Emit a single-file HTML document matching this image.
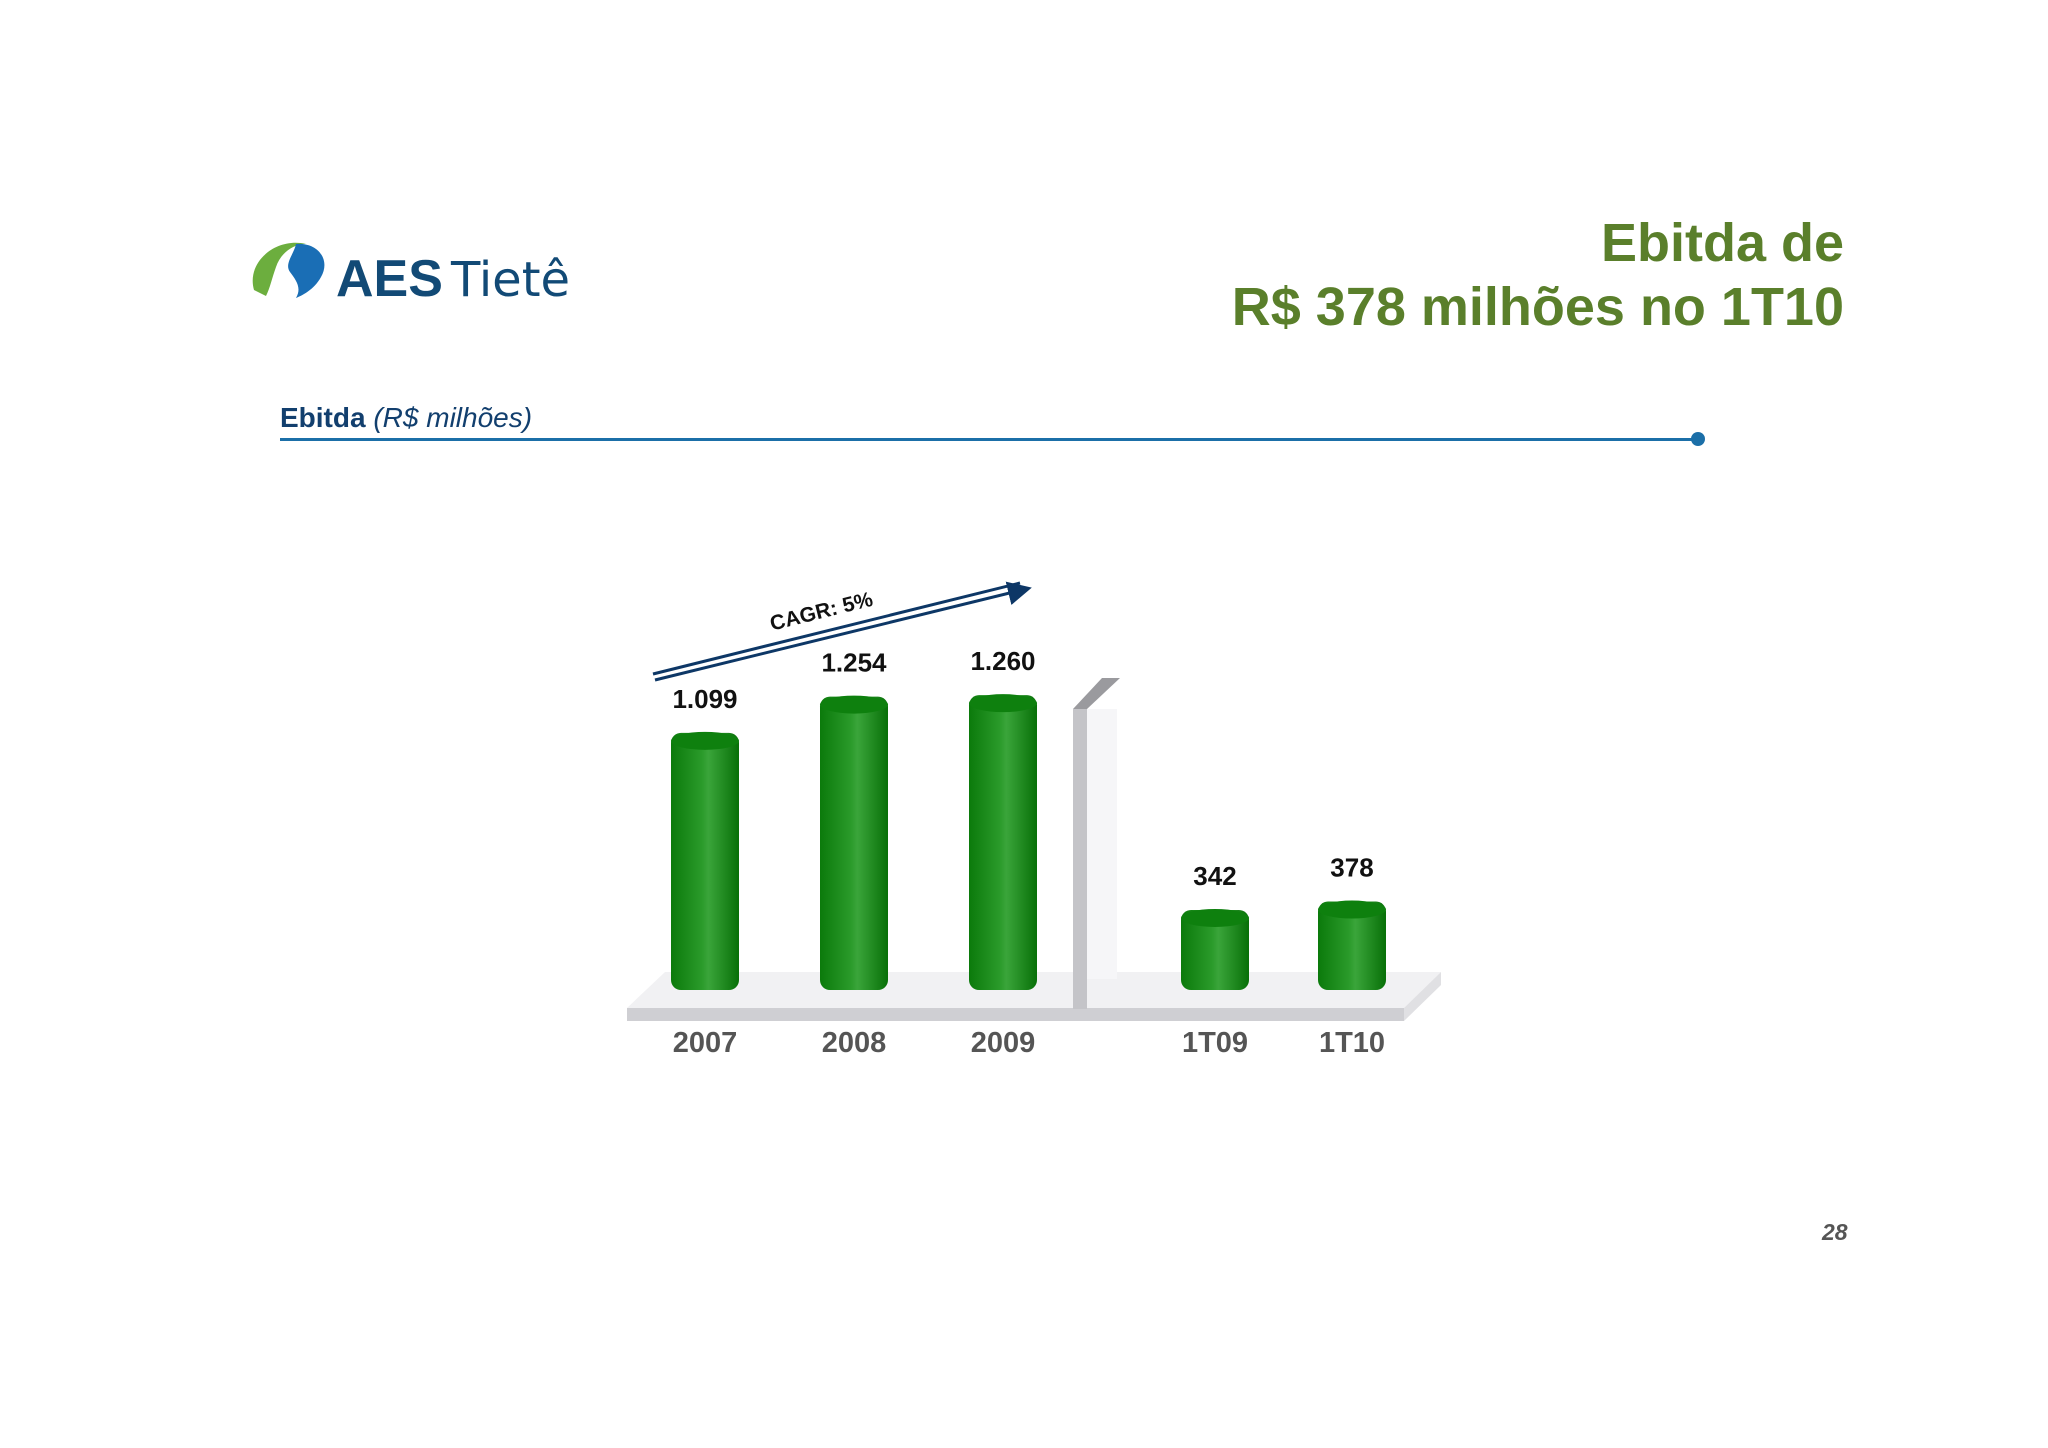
<!DOCTYPE html>
<html><head><meta charset="utf-8"><style>
body{margin:0;width:2048px;height:1448px;background:#fff;position:relative;overflow:hidden;font-family:"Liberation Sans",sans-serif}
.abs{position:absolute}
</style></head><body>
<div class="abs" style="left:246px;top:232px;width:340px;height:75px">
<svg width="340" height="75" viewBox="0 0 340 75">
<path d="M8 58 C0 30 30 5 60 12 C48 12 35 20 30 35 C26 46 24 56 20 64 Z" fill="#6cae3e"/>
<path d="M50 12 C72 10 85 28 75 45 C68 58 55 64 50 66 C56 56 50 48 44 40 C38 32 48 22 50 12 Z" fill="#1a6eb5"/>
<text x="90" y="64" font-family="Liberation Sans, sans-serif" font-weight="bold" font-size="52" fill="#124a76">AES</text>
<text x="205" y="64" font-family="DejaVu Sans, sans-serif" font-size="48" fill="#124a76">Tietê</text>
</svg></div>
<div class="abs" style="right:204px;top:211px;text-align:right;color:#5a7f2b;font-weight:bold;font-size:54px;line-height:64px">Ebitda de<br>R$ 378 milhões no 1T10</div>
<div class="abs" style="left:280px;top:402px;font-size:28px;color:#123f6e"><b>Ebitda</b> <i>(R$ milhões)</i></div>
<div class="abs" style="left:280px;top:438px;width:1418px;height:3px;background:#1b6fa8"></div>
<div class="abs" style="left:1691px;top:432px;width:14px;height:14px;border-radius:50%;background:#1b6fa8"></div>
<div class="abs" style="left:1822px;top:1219px;font-size:23px;font-weight:bold;font-style:italic;color:#555">28</div>
<svg class="abs" style="left:0;top:0" width="2048" height="1448" id="chart">
<defs>
<linearGradient id="g" x1="0" x2="1" y1="0" y2="0">
<stop offset="0" stop-color="#0b7a0b"/><stop offset="0.45" stop-color="#2a9a2a"/><stop offset="0.55" stop-color="#3aa53a"/><stop offset="1" stop-color="#087008"/></linearGradient>
<marker id="ah" markerWidth="8" markerHeight="8" refX="6" refY="4" orient="auto"><path d="M0 0 L8 4 L0 8Z" fill="#0d3766"/></marker>
</defs>
<polygon points="665,972 1441,972 1404,1008 627,1008" fill="#f1f1f3"/>
<rect x="627" y="1008" width="777" height="13" fill="#cfcfd3"/>
<polygon points="1404,1008 1441,972 1441,985 1404,1021" fill="#e0e0e3"/>
<rect x="1073" y="709" width="14" height="300" fill="#c4c4c8"/>
<polygon points="1073,709 1102,678 1120,678 1087,709" fill="#9a9a9e"/>
<rect x="1087" y="709" width="30" height="270" fill="#f6f6f8"/>
<line x1="653" y1="674" x2="1020" y2="583" stroke="#0d3766" stroke-width="3"/>
<line x1="655" y1="680" x2="1026" y2="589" stroke="#0d3766" stroke-width="3" marker-end="url(#ah)"/>
<text x="823" y="618" transform="rotate(-14 823 618)" font-size="21" font-weight="bold" fill="#111" text-anchor="middle">CAGR: 5%</text>
<g id="bars"></g>
</svg>
<script>
const categories=["2007","2008","2009","1T09","1T10"];
const values=[1099,1254,1260,342,378];
const valueLabels=["1.099","1.254","1.260","342","378"];
const xCenters=[705,854,1003,1215,1352];
const baseY=990, k=0.234;
function y(v){return baseY-v*k;}
const g=document.getElementById('bars');
const ns="http://www.w3.org/2000/svg";
values.forEach((v,i)=>{
 const cx=xCenters[i],w=68,top=y(v);
 const r=document.createElementNS(ns,'rect');
 
 
 r.setAttribute('x',cx-w/2);r.setAttribute('y',top);r.setAttribute('width',w);r.setAttribute('height',baseY-top);
 r.setAttribute('rx',10);r.setAttribute('fill','url(#g)');g.appendChild(r);
 const c=document.createElementNS(ns,'ellipse');
 
 
 c.setAttribute('cx',cx);c.setAttribute('cy',top+8);c.setAttribute('rx',w/2);c.setAttribute('ry',9);c.setAttribute('fill','#0e800e');g.appendChild(c);
 const t=document.createElementNS(ns,'text');
 
 
 t.setAttribute('x',cx);t.setAttribute('y',top-25);t.setAttribute('text-anchor','middle');t.setAttribute('font-size','26');t.setAttribute('font-weight','bold');t.setAttribute('fill','#111');
 t.textContent=valueLabels[i];g.appendChild(t);
 const l=document.createElementNS(ns,'text');
 
 
 l.setAttribute('x',cx);l.setAttribute('y',1052);l.setAttribute('text-anchor','middle');l.setAttribute('font-size','29');l.setAttribute('font-weight','bold');l.setAttribute('fill','#555');
 l.textContent=categories[i];g.appendChild(l);
});
</script>
</body></html>
